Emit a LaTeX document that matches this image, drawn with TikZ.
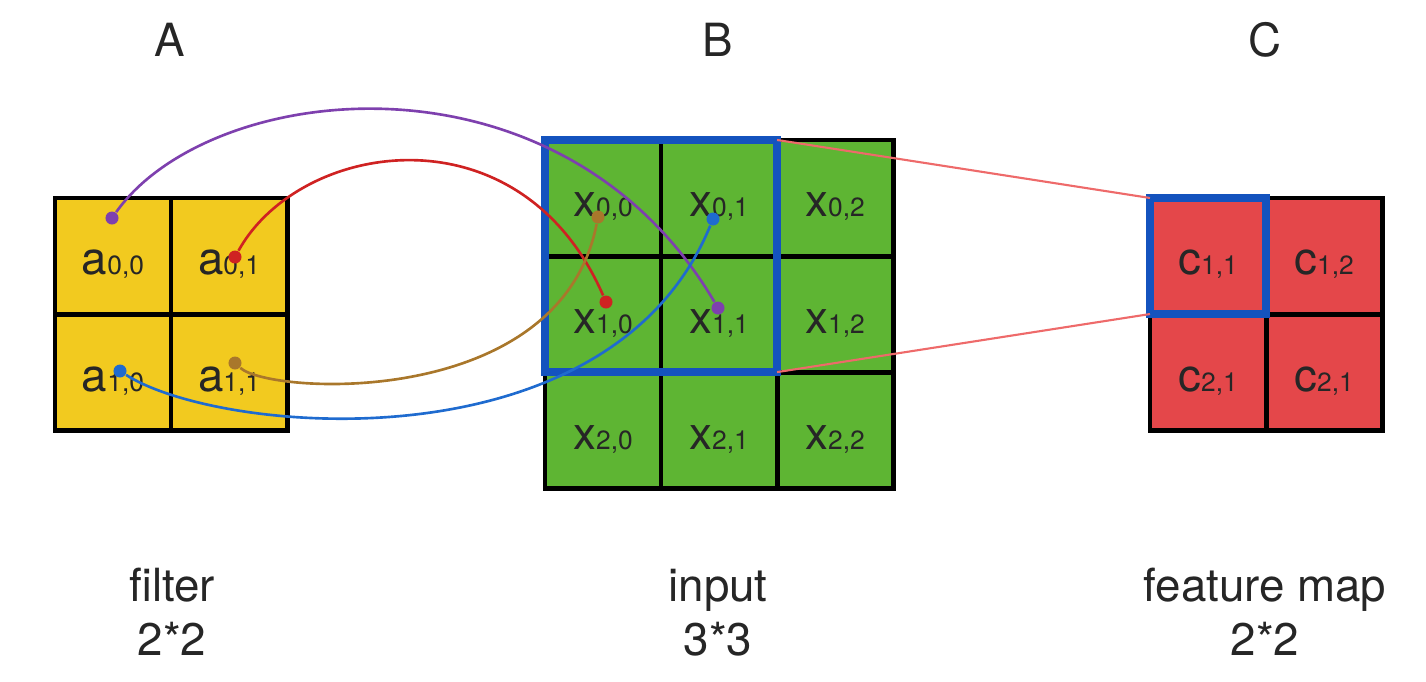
\documentclass[tikz,border=0pt]{standalone}
\usepackage{fontspec}
\setmainfont{TeX Gyre Heros}
\usepackage{xcolor}
\usetikzlibrary{positioning,fit}
\definecolor{filtery}{HTML}{F2CA1F}
\definecolor{inputg}{HTML}{5EB533}
\definecolor{mapr}{HTML}{E4474A}
\definecolor{winblue}{HTML}{1453BE}
\definecolor{linkred}{HTML}{EE6A6A}
\definecolor{cpurple}{HTML}{7E40AE}
\definecolor{cred}{HTML}{CF2222}
\definecolor{cbrown}{HTML}{A9772B}
\definecolor{cblue}{HTML}{1F6BCF}
\newcommand{\cellt}[2]{{\fontsize{13}{13}\selectfont #1}{\fontsize{7.5}{8}\selectfont #2}}

\begin{document}
\begin{tikzpicture}[
  x=0.01cm, y=-0.01cm,
  node distance=0mm,
  cell/.style={draw=black,line width=1.4pt,minimum size=11.6mm,inner sep=0pt,outer sep=0pt,
               text height=10.8pt,text depth=0pt,text=black!85},
  fcell/.style={cell,fill=filtery},
  icell/.style={cell,fill=inputg},
  mcell/.style={cell,fill=mapr},
  win/.style={draw=winblue,line width=2.3pt,inner sep=0pt,outer sep=0pt},
  link/.style={linkred,line width=0.6pt},
  wire/.style={line width=0.75pt},
  dot/.style={circle,fill=#1,inner sep=0pt,minimum size=1.3mm},
  head/.style={font=\fontsize{13}{15.4}\selectfont,text=black!85}
]
  \useasboundingbox (0,0) rectangle (1426,681);

  % filter A
  \node[fcell] (a00) at (113,256) {\cellt{a}{0,0}};
  \node[fcell,right=of a00] (a01) {\cellt{a}{0,1}};
  \node[fcell,below=of a00] (a10) {\cellt{a}{1,0}};
  \node[fcell,right=of a10] (a11) {\cellt{a}{1,1}};

  % input B
  \node[icell] (x00) at (603,198) {\cellt{x}{0,0}};
  \node[icell,right=of x00] (x01) {\cellt{x}{0,1}};
  \node[icell,right=of x01] (x02) {\cellt{x}{0,2}};
  \node[icell,below=of x00] (x10) {\cellt{x}{1,0}};
  \node[icell,right=of x10] (x11) {\cellt{x}{1,1}};
  \node[icell,right=of x11] (x12) {\cellt{x}{1,2}};
  \node[icell,below=of x10] (x20) {\cellt{x}{2,0}};
  \node[icell,right=of x20] (x21) {\cellt{x}{2,1}};
  \node[icell,right=of x21] (x22) {\cellt{x}{2,2}};

  % feature map C
  \node[mcell] (c11) at (1208,256) {\cellt{c}{1,1}};
  \node[mcell,right=of c11] (c12) {\cellt{c}{1,2}};
  \node[mcell,below=of c11] (c21) {\cellt{c}{2,1}};
  \node[mcell,right=of c21] (c22) {\cellt{c}{2,1}};

  % windows
  \node[win,fit=(x00)(x11)] (iwin) {};
  \node[win,fit=(c11)] (mwin) {};
  \draw[link] (iwin.north east) -- (mwin.north west);
  \draw[link] (iwin.south east) -- (mwin.south west);

  % headings and captions
  \node[head] (ha) at (170,40) {A};
  \node[head] (hb) at (718,40) {B};
  \node[head] (hc) at (1265,40) {C};
  \node[head,anchor=base] (fname) at (172,601) {filter};
  \node[head,anchor=base] (fsize) at (172,655) {2*2};
  \node[head,anchor=base] (iname) at (718,601) {input};
  \node[head,anchor=base] (isize) at (718,655) {3*3};
  \node[head,anchor=base] (mname) at (1265,601) {feature map};
  \node[head,anchor=base] (msize) at (1265,655) {2*2};

  % weight dots
  \node[dot=cpurple] (pa) at (112,218) {};
  \node[dot=cred] (ra) at (235,257) {};
  \node[dot=cblue] (ba) at (120,371) {};
  \node[dot=cbrown] (na) at (235,363) {};
  \node[dot=cbrown] (nx) at (598,217) {};
  \node[dot=cblue] (bx) at (713,219) {};
  \node[dot=cred] (rx) at (606,302) {};
  \node[dot=cpurple] (px) at (718,308) {};

  \draw[wire,cpurple] (pa) .. controls (210,80) and (560,40) .. (px);
  \draw[wire,cred] (ra) .. controls (300,140) and (520,105) .. (rx);
  \draw[wire,cbrown] (na) .. controls (270,395) and (560,410) .. (nx);
  \draw[wire,cblue] (ba) .. controls (220,435) and (610,470) .. (bx);
\end{tikzpicture}
\end{document}
